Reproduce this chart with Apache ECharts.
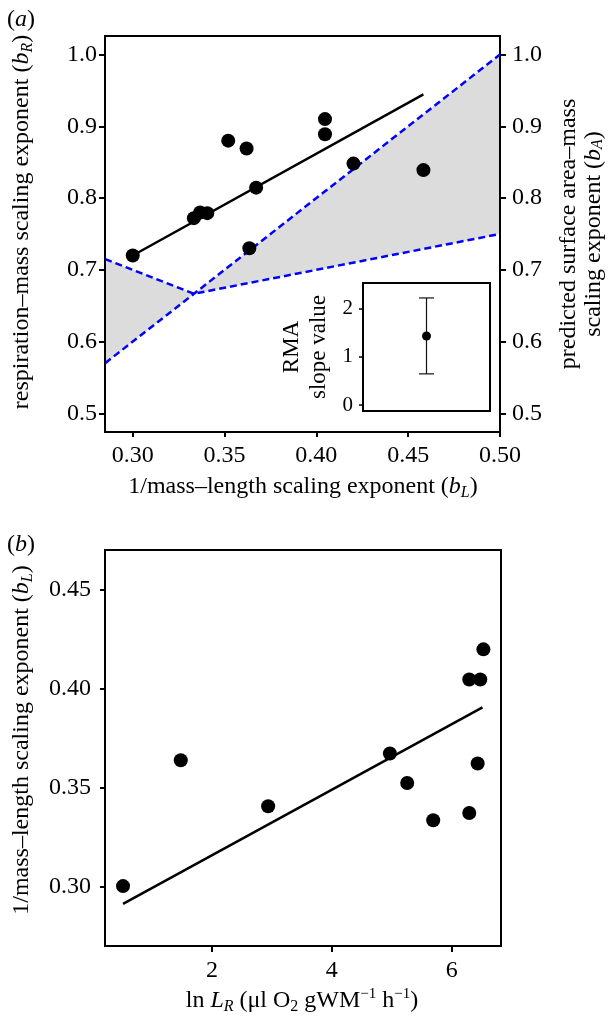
<!DOCTYPE html>
<html><head><meta charset="utf-8">
<script src="https://cdn.jsdelivr.net/npm/echarts@6/dist/echarts.min.js"></script>
<style>html,body{margin:0;padding:0;background:#fff;font-family:'Liberation Serif',serif}#c{width:609px;height:1017px}</style>
</head><body><div id="c"></div>
<script>
// ---- Panel (a): respiration-mass exponent vs 1/mass-length exponent ----
const bL_a = [0.300, 0.3333, 0.3367, 0.3406, 0.352, 0.362, 0.3635, 0.3672, 0.4047, 0.4047, 0.4202, 0.4583];
const bR_a = [0.720, 0.772, 0.780, 0.779, 0.880, 0.869, 0.730, 0.8145, 0.910, 0.889, 0.848, 0.839];
const fitA_x = [0.300, 0.4583];
const fitA_y = [0.720, 0.9446];
// predicted b_A boundaries (blue dashed)
const upperDash_x = [0.285, 0.500];
const upperDash_y = [0.570, 1.000];
const lowerDash_x = [0.285, 0.3333, 0.500];
const lowerDash_y = [0.715, 0.6667, 0.750];
// inset: RMA slope with interval
const rmaSlope = [1.43];
const rmaLow = [0.646];
const rmaHigh = [2.22];
// ---- Panel (b): 1/mass-length exponent vs ln L_R ----
const lnLR_b = [0.513, 1.477, 2.936, 4.969, 5.258, 5.692, 6.294, 6.434, 6.294, 6.478, 6.530];
const bL_b = [0.3003, 0.3638, 0.3406, 0.3672, 0.3523, 0.3335, 0.3372, 0.3621, 0.4045, 0.4045, 0.4197];
const fitB_x = [0.513, 6.515];
const fitB_y = [0.2913, 0.3904];
// tick labels
const ticksAX = [0.30, 0.35, 0.40, 0.45, 0.50];
const ticksAY = [0.5, 0.6, 0.7, 0.8, 0.9, 1.0];
const ticksInsetY = [0, 1, 2];
const ticksBX = [2, 4, 6];
const ticksBY = [0.30, 0.35, 0.40, 0.45];

const FONT = "'Liberation Serif', 'Times New Roman', serif";
const zip = (a, b) => a.map((v, i) => [v, b[i]]);

const polygon = [
  [upperDash_x[0], upperDash_y[0]],
  [upperDash_x[1], upperDash_y[1]],
  [lowerDash_x[2], lowerDash_y[2]],
  [lowerDash_x[1], lowerDash_y[1]],
  [lowerDash_x[0], lowerDash_y[0]]
];

function tickAxis(base) {
  return Object.assign({
    type: 'value',
    axisLine: { show: false },
    splitLine: { show: false },
    axisTick: { show: true, inside: false, length: 5, lineStyle: { color: '#000', width: 2 } },
    axisLabel: { color: '#000', fontFamily: FONT, fontSize: 24 }
  }, base);
}

const richBase = {
  n: { fontFamily: FONT, fontSize: 24, color: '#000', lineHeight: 28 },
  i: { fontFamily: FONT, fontSize: 24, fontStyle: 'italic', color: '#000', lineHeight: 28 },
  s: { fontFamily: FONT, fontSize: 16, fontStyle: 'italic', color: '#000', lineHeight: 16, verticalAlign: 'bottom' },
  sn: { fontFamily: FONT, fontSize: 16, color: '#000', lineHeight: 16, verticalAlign: 'bottom' },
  sp: { fontFamily: FONT, fontSize: 15, color: '#000', lineHeight: 15, verticalAlign: 'top' }
};

function gtext(x, y, text, rot, rich) {
  return {
    type: 'text', x: x, y: y, rotation: rot || 0, silent: true,
    style: { text: text, align: 'center', verticalAlign: 'middle', rich: rich || richBase,
      fontFamily: FONT, fontSize: 24, fill: '#000' }
  };
}

const dot = { color: '#000', opacity: 1 };

const chart = echarts.init(document.getElementById('c'), null, { renderer: 'canvas' });
const option = {
  animation: false,
  backgroundColor: '#fff',
  textStyle: { fontFamily: FONT },
  grid: [
    { left: 105, top: 36, width: 395, height: 396, show: true, borderColor: '#000', borderWidth: 2, z: 2 },
    { left: 363, top: 283, width: 127, height: 128, show: true, borderColor: '#000', borderWidth: 2, backgroundColor: '#fff', z: 4 },
    { left: 105, top: 550, width: 396, height: 396, show: true, borderColor: '#000', borderWidth: 2, z: 2 }
  ],
  xAxis: [
    tickAxis({ gridIndex: 0, min: 0.2849, max: 0.50,
      axisTick: { show: true, length: 5, lineStyle: { color: '#000', width: 2 }, customValues: ticksAX },
      axisLabel: { color: '#000', fontFamily: FONT, fontSize: 24, margin: 12, customValues: ticksAX, formatter: v => v.toFixed(2) } }),
    { type: 'value', gridIndex: 1, min: 0, max: 1, show: false },
    tickAxis({ gridIndex: 2, min: 0.212, max: 6.824,
      axisTick: { show: true, length: 6, lineStyle: { color: '#000', width: 2 }, customValues: ticksBX },
      axisLabel: { color: '#000', fontFamily: FONT, fontSize: 24, margin: 13, customValues: ticksBX, formatter: v => String(v) } })
  ],
  yAxis: [
    tickAxis({ gridIndex: 0, min: 0.4741, max: 1.0258, position: 'left',
      axisTick: { show: true, length: 6, lineStyle: { color: '#000', width: 2 }, customValues: ticksAY },
      axisLabel: { color: '#000', fontFamily: FONT, fontSize: 24, margin: 8, customValues: ticksAY, formatter: v => v.toFixed(1) } }),
    tickAxis({ gridIndex: 0, min: 0.4741, max: 1.0258, position: 'right',
      axisTick: { show: true, length: 6, lineStyle: { color: '#000', width: 2 }, customValues: ticksAY },
      axisLabel: { color: '#000', fontFamily: FONT, fontSize: 24, margin: 12, customValues: ticksAY, formatter: v => v.toFixed(1) } }),
    tickAxis({ gridIndex: 1, min: -0.124, max: 2.53, position: 'left',
      axisTick: { show: true, length: 4, lineStyle: { color: '#000', width: 1.5 }, customValues: ticksInsetY },
      axisLabel: { color: '#000', fontFamily: FONT, fontSize: 21, margin: 10, customValues: ticksInsetY, formatter: v => String(v) } }),
    tickAxis({ gridIndex: 2, min: 0.2701, max: 0.4698, position: 'left',
      axisTick: { show: true, length: 5, lineStyle: { color: '#000', width: 2 }, customValues: ticksBY },
      axisLabel: { color: '#000', fontFamily: FONT, fontSize: 24, margin: 14, customValues: ticksBY, formatter: v => v.toFixed(2) } })
  ],
  series: [
    { type: 'custom', xAxisIndex: 0, yAxisIndex: 0, z: 1, silent: true, clip: true,
      data: polygon,
      renderItem: function (params, api) {
        if (params.dataIndex !== 0) return null;
        return { type: 'polygon', shape: { points: polygon.map(p => api.coord(p)) },
          style: { fill: '#dcdcdc', stroke: null } };
      } },
    { type: 'line', xAxisIndex: 0, yAxisIndex: 0, data: zip(upperDash_x, upperDash_y), symbol: 'none', z: 3,
      lineStyle: { color: '#0000ff', width: 2.5, type: [7, 4] }, silent: true },
    { type: 'line', xAxisIndex: 0, yAxisIndex: 0, data: zip(lowerDash_x, lowerDash_y), symbol: 'none', z: 3,
      lineStyle: { color: '#0000ff', width: 2.5, type: [7, 4] }, silent: true },
    { type: 'line', xAxisIndex: 0, yAxisIndex: 0, data: zip(fitA_x, fitA_y), symbol: 'none', z: 3,
      lineStyle: { color: '#000', width: 2.5 }, silent: true },
    { type: 'scatter', xAxisIndex: 0, yAxisIndex: 0, data: zip(bL_a, bR_a), symbolSize: 14, z: 5,
      itemStyle: dot, silent: true },
    { type: 'custom', xAxisIndex: 1, yAxisIndex: 2, z: 5, silent: true,
      data: rmaSlope.map((v, i) => [0.5, rmaLow[i], rmaHigh[i]]),
      renderItem: function (params, api) {
        const lo = api.coord([api.value(0), api.value(1)]);
        const hi = api.coord([api.value(0), api.value(2)]);
        const w = 7.5;
        const st = { stroke: '#111', lineWidth: 1.2 };
        return { type: 'group', children: [
          { type: 'line', shape: { x1: lo[0], y1: lo[1], x2: hi[0], y2: hi[1] }, style: st },
          { type: 'line', shape: { x1: lo[0] - w, y1: lo[1], x2: lo[0] + w, y2: lo[1] }, style: st },
          { type: 'line', shape: { x1: hi[0] - w, y1: hi[1], x2: hi[0] + w, y2: hi[1] }, style: st }
        ] };
      } },
    { type: 'scatter', xAxisIndex: 1, yAxisIndex: 2, data: rmaSlope.map(v => [0.5, v]), symbolSize: 9, z: 6,
      itemStyle: dot, silent: true },
    { type: 'line', xAxisIndex: 2, yAxisIndex: 3, data: zip(fitB_x, fitB_y), symbol: 'none', z: 3,
      lineStyle: { color: '#000', width: 2.5 }, silent: true },
    { type: 'scatter', xAxisIndex: 2, yAxisIndex: 3, data: zip(lnLR_b, bL_b), symbolSize: 14, z: 5,
      itemStyle: dot, silent: true }
  ],
  graphic: [
    gtext(21, 20, '{n|(}{i|a}{n|)}'),
    gtext(22, 222, '{n|respiration–mass scaling exponent (}{i|b}{s|R}{n|)}', Math.PI / 2),
    gtext(581, 234, '{n|predicted surface area–mass}\n{n|scaling exponent (}{i|b}{s|A}{n|)}', Math.PI / 2,
      Object.assign({}, richBase, { n: Object.assign({}, richBase.n, { lineHeight: 25 }), i: Object.assign({}, richBase.i, { lineHeight: 25 }) })),
    gtext(303, 487, '{n|1/mass–length scaling exponent (}{i|b}{s|L}{n|)}'),
    gtext(305, 347, '{m|RMA}\n{m|slope value}', Math.PI / 2,
      { m: { fontFamily: FONT, fontSize: 23, color: '#000', lineHeight: 27 } }),
    gtext(21, 545, '{n|(}{i|b}{n|)}'),
    gtext(22, 740, '{n|1/mass–length scaling exponent (}{i|b}{s|L}{n|)}', Math.PI / 2),
    gtext(302, 1001, '{n|ln }{i|L}{s|R}{n| (μl O}{sn|2}{n| gWM}{sp|−1}{n| h}{sp|−1}{n|)}')
  ]
};
chart.setOption(option);
</script>
</body></html>
